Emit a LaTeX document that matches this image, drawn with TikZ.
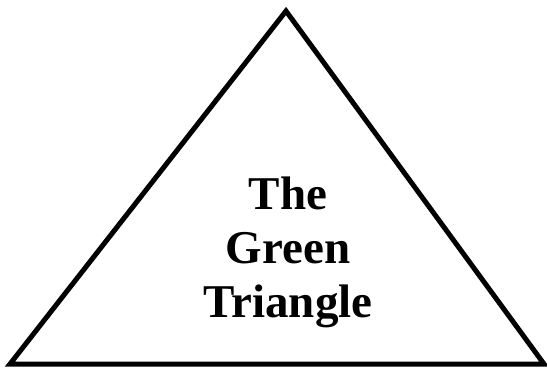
\documentclass[tikz,border=0pt]{standalone}
\usepackage{fontspec}
\setmainfont{Liberation Serif}
\begin{document}
\begin{tikzpicture}[x=1pt,y=-1pt,
  tri/.style={draw=black,line width=5pt,line join=miter},
  label/.style={font=\fontsize{47}{54}\selectfont\bfseries,align=center,inner sep=0pt}]
\useasboundingbox (0,0) rectangle (547,368);
\coordinate (apex) at (286,11);
\coordinate (bl) at (10,364);
\coordinate (br) at (544,364);
\draw[tri] (apex) -- (br) -- (bl) -- cycle;
\node[label,anchor=base] (t) at (288,317) {The\\Green\\Triangle};
\end{tikzpicture}
\end{document}
